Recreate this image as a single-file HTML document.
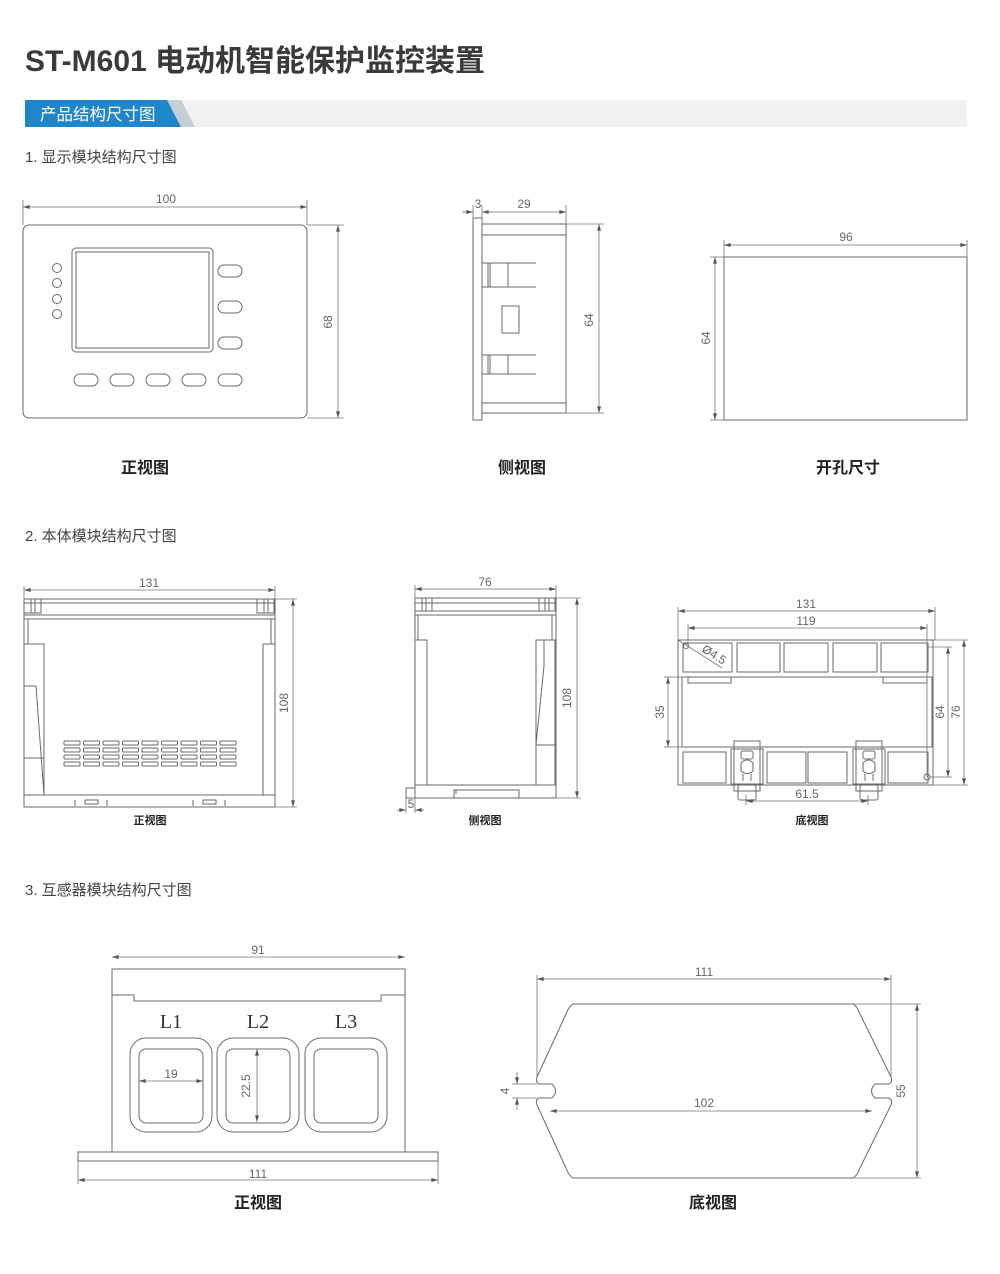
<!DOCTYPE html>
<html><head><meta charset="utf-8"><style>
html,body{margin:0;padding:0;background:#fff;}
body{width:1000px;height:1274px;position:relative;overflow:hidden;font-family:"Liberation Sans","Noto Sans CJK SC",sans-serif;}
svg{position:absolute;left:0;top:0;}
.l{fill:none;stroke:#6a6a6a;stroke-width:1;}
.d{fill:none;stroke:#777;stroke-width:0.8;}
.t{font-family:"Liberation Sans","DejaVu Sans",sans-serif;font-size:12px;fill:#666;text-anchor:middle;}
.cap{font-family:"Liberation Sans","Noto Sans CJK SC",sans-serif;font-weight:bold;fill:#222;text-anchor:middle;}
.sec{font-size:15px;fill:#444;font-family:'Liberation Sans','Noto Sans CJK SC',sans-serif;}
</style></head><body>
<svg width="1000" height="1274" viewBox="0 0 1000 1274" xmlns="http://www.w3.org/2000/svg">
<defs>
<marker id="a" viewBox="0 0 10 6" refX="10" refY="3" markerWidth="8" markerHeight="4" orient="auto-start-reverse" markerUnits="userSpaceOnUse"><path d="M0,0 L10,3 L0,6 z" fill="#555"/></marker>
</defs>
<!-- Header -->
<text x="25" y="71" style="font-family:'Liberation Sans','Noto Sans CJK SC',sans-serif;font-size:30px;font-weight:bold;fill:#3a3a3a">ST-M601 电动机智能保护监控装置</text>
<rect x="25" y="100" width="942" height="27" fill="#eff1f3"/>
<polygon points="167,100 181,100 195,127 181,127" fill="#c5cfd4"/>
<polygon points="25,100 167,100 181,127 25,127" fill="#1f86cc"/>
<text x="40" y="120" style="font-size:16.5px;fill:#fff;font-family:'Liberation Sans','Noto Sans CJK SC',sans-serif">产品结构尺寸图</text>
<text class="sec" x="25" y="162">1. 显示模块结构尺寸图</text>
<text class="sec" x="25" y="541">2. 本体模块结构尺寸图</text>
<text class="sec" x="25" y="895">3. 互感器模块结构尺寸图</text>

<!-- S1 front -->
<rect class="l" x="23" y="225" width="284" height="193" rx="6"/>
<rect class="l" x="72" y="248" width="141" height="104" rx="4"/>
<rect class="l" x="76" y="252" width="133" height="96"/>
<g class="l"><circle cx="57" cy="268" r="4.5"/><circle cx="57" cy="283" r="4.5"/><circle cx="57" cy="299" r="4.5"/><circle cx="57" cy="314" r="4.5"/>
<rect x="218" y="265" width="24" height="12" rx="6"/><rect x="218" y="301" width="24" height="12" rx="6"/><rect x="218" y="337" width="24" height="12" rx="6"/>
<rect x="74" y="374" width="24" height="12" rx="6"/><rect x="110" y="374" width="24" height="12" rx="6"/><rect x="146" y="374" width="24" height="12" rx="6"/><rect x="182" y="374" width="24" height="12" rx="6"/><rect x="218" y="374" width="24" height="12" rx="6"/></g>
<g class="d"><line x1="23" y1="207" x2="307" y2="207" marker-start="url(#a)" marker-end="url(#a)"/><line x1="23" y1="200" x2="23" y2="225"/><line x1="307" y1="200" x2="307" y2="225"/>
<line x1="338" y1="225" x2="338" y2="418" marker-start="url(#a)" marker-end="url(#a)"/><line x1="307" y1="225" x2="344" y2="225"/><line x1="307" y1="418" x2="344" y2="418"/></g>
<text class="t" x="166" y="203" font-size="13">100</text>
<text class="t" transform="translate(332,322) rotate(-90)" font-size="13">68</text>

<!-- S1 side -->
<rect class="l" x="473" y="218" width="9" height="202"/>
<rect class="l" x="482" y="224" width="84" height="189"/>
<g class="l"><line x1="482" y1="235" x2="566" y2="235"/><line x1="482" y1="403" x2="566" y2="403"/>
<path d="M482,263 H536 M482,287 H536 M508,263 V287 M488,263 V287 M490,263 V287"/>
<path d="M482,355 H536 M482,374 H536 M508,355 V374 M488,355 V374 M490,355 V374"/>
<rect x="502" y="306" width="17" height="27"/></g>
<g class="d"><line x1="462" y1="212" x2="473" y2="212" marker-end="url(#a)"/><line x1="482" y1="212" x2="492" y2="212" marker-start="url(#a)"/><line x1="482" y1="212" x2="566" y2="212" marker-end="url(#a)"/>
<line x1="473" y1="205" x2="473" y2="218"/><line x1="482" y1="205" x2="482" y2="224"/><line x1="566" y1="205" x2="566" y2="224"/>
<line x1="599" y1="224" x2="599" y2="413" marker-start="url(#a)" marker-end="url(#a)"/><line x1="566" y1="224" x2="604" y2="224"/><line x1="566" y1="413" x2="604" y2="413"/></g>
<text class="t" x="478" y="208">3</text><text class="t" x="524" y="208">29</text>
<text class="t" transform="translate(593,320) rotate(-90)" font-size="14">64</text>

<!-- S1 cutout -->
<rect class="l" x="724" y="257" width="243" height="163"/>
<g class="d"><line x1="724" y1="245" x2="967" y2="245" marker-start="url(#a)" marker-end="url(#a)"/><line x1="724" y1="240" x2="724" y2="257"/><line x1="967" y1="240" x2="967" y2="257"/>
<line x1="715" y1="257" x2="715" y2="420" marker-start="url(#a)" marker-end="url(#a)"/><line x1="710" y1="257" x2="724" y2="257"/><line x1="710" y1="420" x2="724" y2="420"/></g>
<text class="t" x="846" y="241">96</text>
<text class="t" transform="translate(710,338) rotate(-90)">64</text>

<text class="cap" x="145" y="473" font-size="16">正视图</text>
<text class="cap" x="522" y="473" font-size="16">侧视图</text>
<text class="cap" x="848" y="473" font-size="16">开孔尺寸</text>

<!-- S2 front -->
<rect class="l" x="24" y="599" width="251" height="208"/>
<g class="l"><line x1="24" y1="615" x2="275" y2="615"/><line x1="24" y1="619" x2="275" y2="619"/>
<line x1="24" y1="603" x2="275" y2="603"/>
<path d="M24,599 V613 H41 V599 M31,599 V613 M35,599 V613"/>
<path d="M257,599 V613 H274 V599 M264,599 V613 M268,599 V613"/>
<line x1="28" y1="619" x2="28" y2="644"/><line x1="271" y1="619" x2="271" y2="644"/>
<rect x="24" y="644" width="20" height="151"/><path d="M24,686 H36 L44,795"/><line x1="24" y1="758" x2="44" y2="758"/>
<rect x="263" y="644" width="12" height="151"/>
<line x1="24" y1="795" x2="275" y2="795"/>
<path d="M75,800 V806 M107,800 V806 M85,800 H98 V804 H85 z M193,800 V806 M225,800 V806 M203,800 H216 V804 H203 z"/></g>
<g class="l" stroke-width="0.8">
<g id="vr">
<rect x="64" y="741" width="16" height="4" rx="1"/><rect x="83.5" y="741" width="16" height="4" rx="1"/><rect x="103" y="741" width="16" height="4" rx="1"/><rect x="122.5" y="741" width="16" height="4" rx="1"/><rect x="142" y="741" width="16" height="4" rx="1"/><rect x="161.5" y="741" width="16" height="4" rx="1"/><rect x="181" y="741" width="16" height="4" rx="1"/><rect x="200.5" y="741" width="16" height="4" rx="1"/><rect x="220" y="741" width="16" height="4" rx="1"/>
</g>
<use href="#vr" y="7"/><use href="#vr" y="14"/><use href="#vr" y="21"/></g>
<g class="d"><line x1="24" y1="590" x2="275" y2="590" marker-start="url(#a)" marker-end="url(#a)"/><line x1="24" y1="586" x2="24" y2="599"/><line x1="275" y1="586" x2="275" y2="599"/>
<line x1="293" y1="599" x2="293" y2="807" marker-start="url(#a)" marker-end="url(#a)"/><line x1="275" y1="599" x2="297" y2="599"/><line x1="275" y1="807" x2="297" y2="807"/></g>
<text class="t" x="149" y="587" font-size="11">131</text>
<text class="t" transform="translate(288,703) rotate(-90)" font-size="11">108</text>

<!-- S2 side -->
<rect class="l" x="415" y="598" width="141" height="187"/>
<g class="l"><line x1="415" y1="603" x2="556" y2="603"/><line x1="415" y1="611" x2="556" y2="611"/><line x1="415" y1="615" x2="556" y2="615"/>
<path d="M415,598 V611 H432 V598 M422,598 V611 M426,598 V611"/>
<path d="M539,598 V611 H555 V598 M545,598 V611 M549,598 V611"/>
<line x1="418" y1="615" x2="418" y2="640"/><line x1="552" y1="615" x2="552" y2="640"/>
<rect x="415" y="640" width="12" height="145"/>
<rect x="536" y="640" width="19" height="145"/><path d="M544,640 V666 L536,745 M536,745 H555"/>
<path d="M415,785 V798 H556 V785 M454,798 V790 H519 V798 M456,790 V794"/>
<rect x="406" y="788" width="9" height="10"/></g>
<g class="d"><line x1="415" y1="589" x2="556" y2="589" marker-start="url(#a)" marker-end="url(#a)"/><line x1="415" y1="585" x2="415" y2="598"/><line x1="556" y1="585" x2="556" y2="598"/>
<line x1="577" y1="598" x2="577" y2="798" marker-start="url(#a)" marker-end="url(#a)"/><line x1="556" y1="598" x2="581" y2="598"/><line x1="556" y1="798" x2="581" y2="798"/>
<line x1="397" y1="810" x2="406" y2="810" marker-end="url(#a)"/><line x1="415" y1="810" x2="424" y2="810" marker-start="url(#a)"/><line x1="406" y1="798" x2="406" y2="813"/><line x1="415" y1="798" x2="415" y2="813"/></g>
<text class="t" x="485" y="586" font-size="11">76</text>
<text class="t" transform="translate(571,698) rotate(-90)" font-size="11">108</text>
<text class="t" x="411" y="808" font-size="10">5</text>

<!-- S2 bottom -->
<g class="l">
<rect x="678" y="640" width="255" height="145"/>
<rect x="683" y="643" width="49" height="29"/><rect x="737" y="643" width="43" height="29"/><rect x="784" y="643" width="44" height="29"/><rect x="833" y="643" width="44" height="29"/><rect x="881" y="643" width="47" height="29"/>
<rect x="682" y="677" width="250" height="70"/>
<rect x="688" y="677" width="43" height="6"/><rect x="883" y="677" width="44" height="6"/>
<rect x="683" y="752" width="43" height="31"/><rect x="767" y="752" width="39" height="31"/><rect x="808" y="752" width="39" height="31"/><rect x="888" y="752" width="40" height="31"/>
<g id="clip"><rect x="734" y="741" width="26" height="50"/><rect x="731" y="749" width="32" height="35"/><rect x="738" y="785" width="18" height="15" rx="2"/><rect x="741" y="751" width="12" height="8" rx="2"/><path d="M741,771 V763 Q747,757 753,763 V771 Q747,776 741,771 z"/><path d="M743,774 V781 M751,774 V781"/></g>
<use href="#clip" x="122"/>
<circle cx="927" cy="777" r="3"/><circle cx="686" cy="646" r="2.5"/></g>
<g class="d"><line x1="678" y1="611" x2="935" y2="611" marker-start="url(#a)" marker-end="url(#a)"/><line x1="678" y1="607" x2="678" y2="640"/><line x1="935" y1="607" x2="935" y2="640"/>
<line x1="688" y1="628" x2="927" y2="628" marker-start="url(#a)" marker-end="url(#a)"/><line x1="688" y1="624" x2="688" y2="646"/><line x1="927" y1="624" x2="927" y2="777"/>
<line x1="668" y1="677" x2="668" y2="747" marker-start="url(#a)" marker-end="url(#a)"/><line x1="664" y1="677" x2="682" y2="677"/><line x1="664" y1="747" x2="682" y2="747"/>
<line x1="948" y1="647" x2="948" y2="777" marker-start="url(#a)" marker-end="url(#a)"/><line x1="928" y1="647" x2="952" y2="647"/><line x1="930" y1="777" x2="952" y2="777"/>
<line x1="964" y1="640" x2="964" y2="785" marker-start="url(#a)" marker-end="url(#a)"/><line x1="933" y1="640" x2="968" y2="640"/><line x1="933" y1="785" x2="968" y2="785"/>
<line x1="746" y1="801" x2="868" y2="801" marker-start="url(#a)" marker-end="url(#a)"/><line x1="746" y1="795" x2="746" y2="805"/><line x1="868" y1="795" x2="868" y2="805"/>
<line x1="678" y1="640" x2="722" y2="668"/></g>
<text class="t" x="806" y="608" font-size="11">131</text>
<text class="t" x="806" y="625" font-size="11">119</text>
<text class="t" transform="translate(664,712) rotate(-90)" font-size="11">35</text>
<text class="t" transform="translate(944,712) rotate(-90)" font-size="11">64</text>
<text class="t" transform="translate(960,712) rotate(-90)" font-size="11">76</text>
<text class="t" x="807" y="798" font-size="11">61.5</text>
<text class="t" transform="translate(712,658) rotate(32)" font-size="10">Ø4.5</text>

<text class="cap" x="150" y="824" font-size="11">正视图</text>
<text class="cap" x="485" y="824" font-size="11">侧视图</text>
<text class="cap" x="812" y="824" font-size="11">底视图</text>

<!-- S3 front -->
<g class="l">
<path d="M112,1152 V969 H405 V1152"/>
<path d="M112,995 H134 V1001 H381 V995 H405"/>
<rect x="78" y="1152" width="360" height="9"/>
<rect x="130" y="1038" width="82" height="94" rx="16"/><rect x="139" y="1049" width="64" height="74" rx="7"/>
<rect x="217" y="1038" width="82" height="94" rx="16"/><rect x="226" y="1049" width="64" height="74" rx="7"/>
<rect x="305" y="1038" width="82" height="94" rx="16"/><rect x="314" y="1049" width="64" height="74" rx="7"/></g>
<text x="171" y="1028" style="font-family:'Liberation Serif',serif;font-size:20px;fill:#333;text-anchor:middle">L1</text>
<text x="258" y="1028" style="font-family:'Liberation Serif',serif;font-size:20px;fill:#333;text-anchor:middle">L2</text>
<text x="346" y="1028" style="font-family:'Liberation Serif',serif;font-size:20px;fill:#333;text-anchor:middle">L3</text>
<g class="d"><line x1="112" y1="957" x2="405" y2="957" marker-start="url(#a)" marker-end="url(#a)"/>
<line x1="139" y1="1081" x2="203" y2="1081" marker-start="url(#a)" marker-end="url(#a)"/>
<line x1="257" y1="1049" x2="257" y2="1122" marker-start="url(#a)" marker-end="url(#a)"/>
<line x1="78" y1="1180" x2="438" y2="1180" marker-start="url(#a)" marker-end="url(#a)"/><line x1="78" y1="1161" x2="78" y2="1184"/><line x1="438" y1="1161" x2="438" y2="1184"/></g>
<text class="t" x="258" y="954">91</text>
<text class="t" x="171" y="1078">19</text>
<text class="t" transform="translate(250,1086) rotate(-90)">22.5</text>
<text class="t" x="258" y="1178">111</text>

<!-- S3 bottom -->
<path class="l" d="M573,1004 H853 Q857,1006 860,1014 L891,1077 Q893,1082 889,1084 H875 Q868,1091 875,1098 H889 Q893,1100 891,1105 L860,1168 Q857,1176 853,1178 H573 Q569,1176 566,1168 L537,1105 Q535,1100 539,1098 H552 Q559,1091 552,1084 H539 Q535,1082 537,1077 L566,1014 Q569,1006 573,1004 Z"/>
<g class="d"><line x1="537" y1="979" x2="891" y2="979" marker-start="url(#a)" marker-end="url(#a)"/><line x1="537" y1="975" x2="537" y2="1077"/><line x1="891" y1="975" x2="891" y2="1077"/>
<line x1="550" y1="1111" x2="872" y2="1111" marker-start="url(#a)" marker-end="url(#a)"/>
<line x1="917" y1="1004" x2="917" y2="1178" marker-start="url(#a)" marker-end="url(#a)"/><line x1="853" y1="1004" x2="921" y2="1004"/><line x1="853" y1="1178" x2="921" y2="1178"/>
<line x1="517" y1="1072" x2="517" y2="1084" marker-end="url(#a)"/><line x1="517" y1="1110" x2="517" y2="1098" marker-end="url(#a)"/><line x1="512" y1="1084" x2="537" y2="1084"/><line x1="512" y1="1098" x2="537" y2="1098"/></g>
<text class="t" x="704" y="976">111</text>
<text class="t" x="704" y="1107">102</text>
<text class="t" transform="translate(905,1091) rotate(-90)" font-size="13">55</text>
<text class="t" transform="translate(509,1091) rotate(-90)">4</text>

<text class="cap" x="258" y="1208" font-size="16">正视图</text>
<text class="cap" x="713" y="1208" font-size="16">底视图</text>
</svg>
</body></html>
